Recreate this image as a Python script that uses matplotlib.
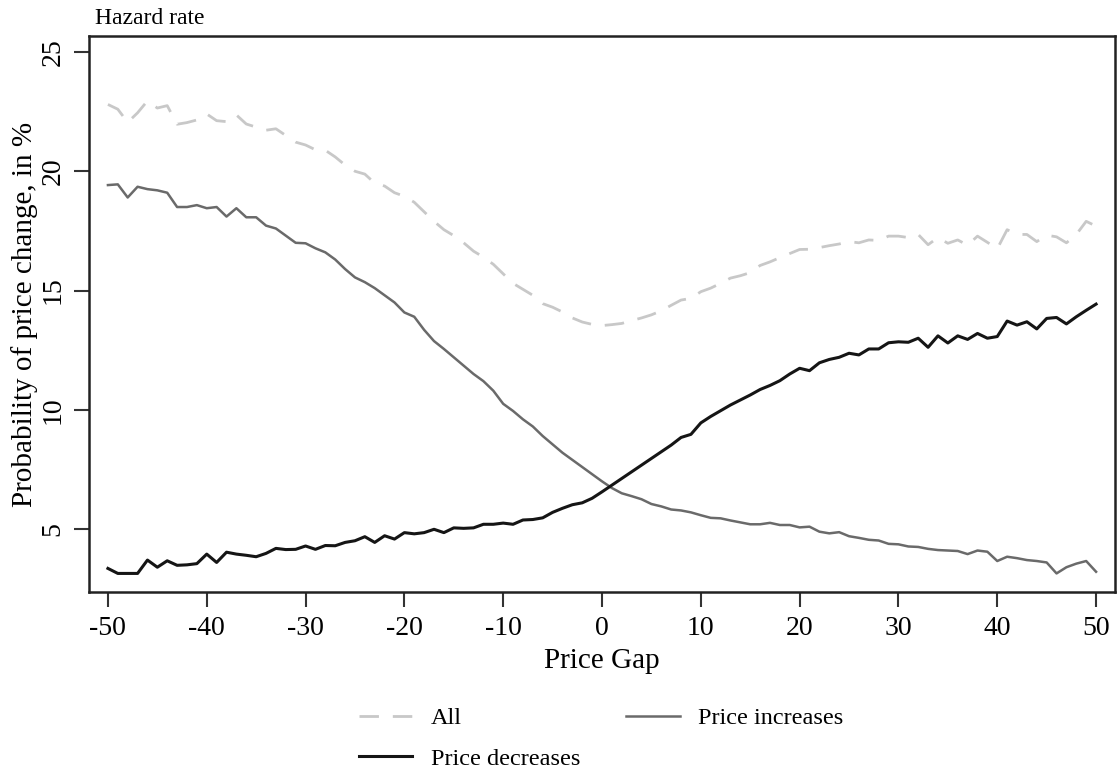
import numpy as np
import matplotlib
matplotlib.use("Agg")
import matplotlib.pyplot as plt

plt.rcParams["font.family"] = ["Liberation Serif", "DejaVu Serif"]

# price gap, -50 .. 50
gap = np.arange(-50, 51)

# hazard rates (in %)
all_changes = [
    22.8, 22.6, 22.05, 22.45, 22.95, 22.65, 22.75, 21.97, 22.04, 22.15,
    22.4, 22.12, 22.08, 22.36, 21.98, 21.85, 21.72, 21.78, 21.5, 21.22,
    21.1, 20.9, 20.88, 20.6, 20.26, 20.0, 19.88, 19.5, 19.38, 19.1,
    18.95, 18.7, 18.3, 17.9, 17.55, 17.3, 17.0, 16.65, 16.4, 16.1,
    15.7, 15.3, 15.05, 14.8, 14.45, 14.3, 14.1, 13.85, 13.68, 13.58,
    13.53, 13.57, 13.62, 13.74, 13.85, 13.98, 14.15, 14.38, 14.6, 14.67,
    14.95, 15.1, 15.3, 15.52, 15.62, 15.75, 16.05, 16.2, 16.38, 16.55,
    16.72, 16.73, 16.8, 16.88, 16.95, 17.05, 17.0, 17.12, 17.1, 17.28,
    17.28, 17.22, 17.35, 16.92, 17.22, 16.98, 17.12, 16.9, 17.28, 17.02,
    16.75, 17.55, 17.35, 17.35, 17.05, 17.32, 17.25, 17.0, 17.35, 17.9,
    17.7,
]

increases = [
    19.42, 19.45, 18.9, 19.35, 19.25, 19.2, 19.1, 18.5, 18.5, 18.58,
    18.45, 18.5, 18.1, 18.45, 18.07, 18.07, 17.72, 17.6, 17.3, 17.0,
    16.98, 16.77, 16.6, 16.3, 15.9, 15.55, 15.35, 15.1, 14.8, 14.5,
    14.08, 13.9, 13.35, 12.88, 12.55, 12.2, 11.85, 11.5, 11.2, 10.8,
    10.25, 9.95, 9.6, 9.3, 8.9, 8.55, 8.2, 7.9, 7.6, 7.3,
    7.0, 6.72, 6.5, 6.38, 6.25, 6.05, 5.95, 5.82, 5.78, 5.7,
    5.58, 5.47, 5.45, 5.36, 5.28, 5.2, 5.2, 5.26, 5.17, 5.17,
    5.07, 5.1, 4.89, 4.82, 4.87, 4.7, 4.63, 4.55, 4.52, 4.38,
    4.36, 4.27, 4.25, 4.17, 4.12, 4.1, 4.08, 3.95, 4.1, 4.05,
    3.66, 3.84, 3.78, 3.7, 3.66, 3.6, 3.14, 3.4, 3.55, 3.66,
    3.21,
]

decreases = [
    3.35, 3.14, 3.14, 3.14, 3.7, 3.4, 3.67, 3.48, 3.5, 3.55,
    3.95, 3.6, 4.03, 3.95, 3.9, 3.84, 3.98, 4.19, 4.14, 4.15,
    4.29, 4.15, 4.31, 4.3, 4.44, 4.51, 4.68, 4.44, 4.72, 4.58,
    4.85, 4.8, 4.85, 4.99, 4.85, 5.05, 5.03, 5.05, 5.2, 5.2,
    5.25, 5.2, 5.38, 5.4, 5.47, 5.7, 5.87, 6.02, 6.1, 6.29,
    6.56, 6.84, 7.12, 7.4, 7.68, 7.96, 8.24, 8.52, 8.84, 8.97,
    9.45, 9.72, 9.96, 10.2, 10.41, 10.62, 10.85, 11.02, 11.22, 11.5,
    11.74, 11.64, 11.97, 12.11, 12.2, 12.37, 12.3, 12.55, 12.55, 12.81,
    12.85, 12.83, 13.0, 12.62, 13.1, 12.8, 13.1, 12.95, 13.2, 13.0,
    13.07, 13.72, 13.55, 13.69, 13.39, 13.83, 13.87, 13.6, 13.9, 14.17,
    14.43,
]

xticks = np.arange(-50, 51, 10)
yticks = [5, 10, 15, 20, 25]

fig = plt.figure(figsize=(11.19, 7.74), dpi=100)
ax = fig.add_axes([0.0795, 0.2351, 0.9167, 0.7184])

l_all, = ax.plot(gap, all_changes, color="#c8c8c8", lw=2.0, dashes=(7, 5), label="All")
l_inc, = ax.plot(gap, increases, color="#6a6a6a", lw=1.8, label="Price increases")
l_dec, = ax.plot(gap, decreases, color="#151515", lw=2.2, label="Price decreases")

ax.set_xlim(-51.92, 51.89)
ax.set_ylim(2.36, 25.67)
ax.set_xticks(xticks)
ax.set_xticklabels([str(t) for t in xticks])
ax.set_yticks(yticks)
ax.set_yticklabels([str(t) for t in yticks], rotation=90, va="center")
ax.tick_params(axis="both", length=11, width=1.5, labelsize=20, color="#333333", pad=6)

for s in ax.spines.values():
    s.set_linewidth(1.8)
    s.set_color("#222222")

ax.set_xlabel("Price Gap", fontsize=21, labelpad=5)
ax.set_ylabel("Probability of price change, in %", fontsize=21, labelpad=2)
fig.text(0.085, 0.976, "Hazard rate", fontsize=17, va="center", ha="left")

fig.legend(handles=[l_all, l_dec, l_inc], ncol=2, frameon=False,
           loc="center", bbox_to_anchor=(0.537, 0.046), fontsize=17.5,
           handlelength=2.2, columnspacing=1.9, labelspacing=0.75,
           handletextpad=0.75)

fig.savefig("out.png", dpi=100)
